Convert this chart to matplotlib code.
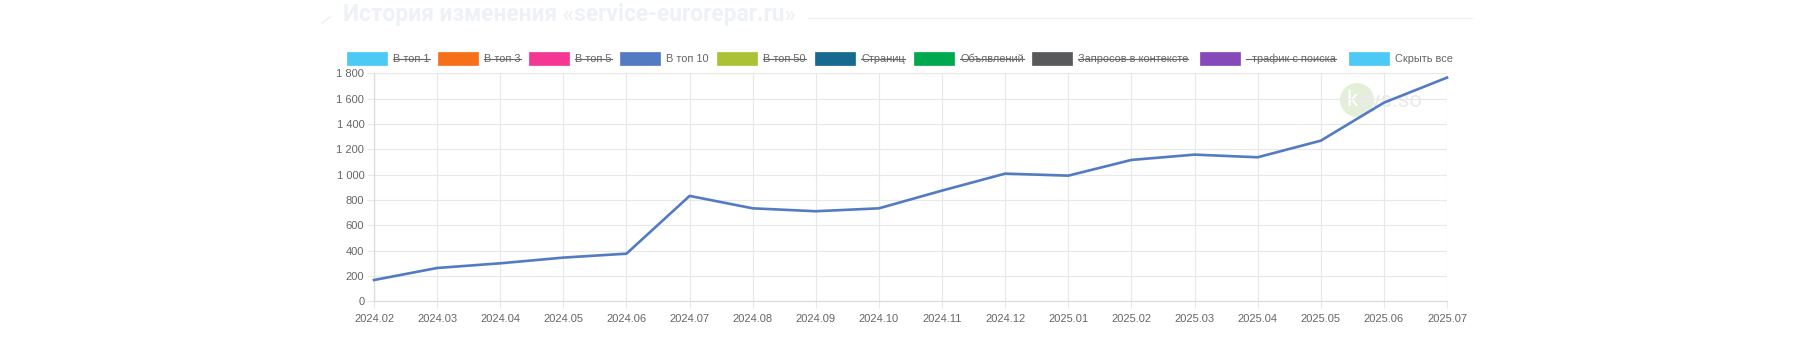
import matplotlib
matplotlib.use("Agg")
import matplotlib.pyplot as plt
import numpy as np
from matplotlib.patches import Rectangle, Circle
from matplotlib.lines import Line2D
from matplotlib.ticker import FuncFormatter, MultipleLocator

# data
months = ['2024.02', '2024.03', '2024.04', '2024.05', '2024.06', '2024.07',
          '2024.08', '2024.09', '2024.10', '2024.11', '2024.12', '2025.01',
          '2025.02', '2025.03', '2025.04', '2025.05', '2025.06', '2025.07']
top10 = [168, 263, 300, 345, 376, 832, 734, 711, 734, 874, 1008, 992,
         1116, 1158, 1137, 1268, 1568, 1766]

legend_labels = ['В топ 1', 'В топ 3', 'В топ 5', 'В топ 10', 'В топ 50', 'Страниц',
                 'Объявлений', 'Запросов в контексте', '  трафик с поиска', 'Скрыть все']
legend_colors = ['#4dc9f6', '#f67019', '#f53794', '#537bc4', '#acc236', '#166a8f',
                 '#00a950', '#58595b', '#8549ba', '#4dc9f6']
legend_hidden = [True, True, True, False, True, True, True, True, True, False]

W, H = 1819, 352
fig = plt.figure(figsize=(W / 100, H / 100), dpi=100)
fig.patch.set_facecolor('white')

def fx(px):
    return px / W

def fy(py):
    return 1 - py / H

# background overlay in pixel coords (watermark)
ax_bg = fig.add_axes([0, 0, 1, 1], facecolor='none', zorder=0)
ax_bg.set_xlim(0, W)
ax_bg.set_ylim(H, 0)
ax_bg.axis('off')
ax_bg.add_patch(Circle((1357, 100), 17, facecolor='#e4efda', edgecolor='none'))
ax_bg.text(1346, 101, 'k', family='Roboto', fontsize=16, color='white', va='center', ha='left')
ax_bg.text(1358, 101, 'eys.so', family='Roboto', fontsize=16, color='#ebebeb', va='center', ha='left')

# plot area in pixels
x0, x1, y0, y1 = 374, 1447, 73.3, 301.3
ax = fig.add_axes([fx(x0), fy(y1), fx(x1) - fx(x0), fy(y0) - fy(y1)], zorder=1)
ax.patch.set_alpha(0)

grid_c = '#e8e8e8'
x = np.arange(len(months))
ax.plot(x, top10, color='#537bc4', lw=1.9, solid_joinstyle='round', zorder=3, clip_on=False)

ax.set_xlim(0, len(months) - 1)
ax.set_ylim(0, 1800)
ax.yaxis.set_major_locator(MultipleLocator(200))
ax.yaxis.set_major_formatter(FuncFormatter(lambda v, p: f'{int(v):,}'.replace(',', ' ')))
ax.set_xticks(x)
ax.set_xticklabels(months)
ax.grid(True, color=grid_c, lw=0.8)
ax.set_axisbelow(True)
for s in ['top', 'right']:
    ax.spines[s].set_visible(False)
for s in ['left', 'bottom']:
    ax.spines[s].set_color('#dcdcdc')
    ax.spines[s].set_linewidth(0.9)
ax.tick_params(axis='both', length=5, color=grid_c, width=0.8,
               labelsize=8, labelcolor='#666666')
ax.tick_params(axis='x', pad=4)
ax.tick_params(axis='y', pad=2)
for lab in ax.get_xticklabels() + ax.get_yticklabels():
    lab.set_family('Liberation Sans')

# gridlines at the right and top edges
ax.axvline(len(months) - 1, color=grid_c, lw=0.8, zorder=0)
ax.axhline(1800, color=grid_c, lw=0.8, zorder=0)

# title (very faint)
fig.text(fx(343), fy(15), 'История изменения «service-eurorepar.ru»', family='Roboto',
         weight='bold', fontsize=16.4, color='#eef1f6', va='center', ha='left')
fig.add_artist(Line2D([fx(322), fx(330)], [fy(23), fy(17)], color='#eef0f3', lw=1.2))
fig.add_artist(Line2D([fx(808), fx(1472)], [fy(18), fy(18)], color='#f0f2f5', lw=1.0))

# legend drawn by hand (chart.js style)
legend_x = [347, 438, 529, 620, 717, 815, 914, 1032, 1200, 1349]
ly = 58.5
texts = []
for lx, lab, col, hid in zip(legend_x, legend_labels, legend_colors, legend_hidden):
    fig.add_artist(Rectangle((fx(lx), fy(ly + 6.5)), fx(40), 13 / H, facecolor=col,
                             edgecolor=col, lw=0.5, transform=fig.transFigure))
    t = fig.text(fx(lx + 46), fy(ly), lab, family='Liberation Sans', fontsize=7.9,
                 color='#666666', va='center', ha='left')
    texts.append((t, hid))

fig.canvas.draw()
r = fig.canvas.get_renderer()
for t, hid in texts:
    if not hid:
        continue
    bb = t.get_window_extent(r)
    ym = (bb.y0 + bb.y1) / 2 / H
    fig.add_artist(Line2D([bb.x0 / W, bb.x1 / W], [ym, ym], color='#666666', lw=0.8))

fig.savefig('out.png', dpi=100, facecolor='white')
